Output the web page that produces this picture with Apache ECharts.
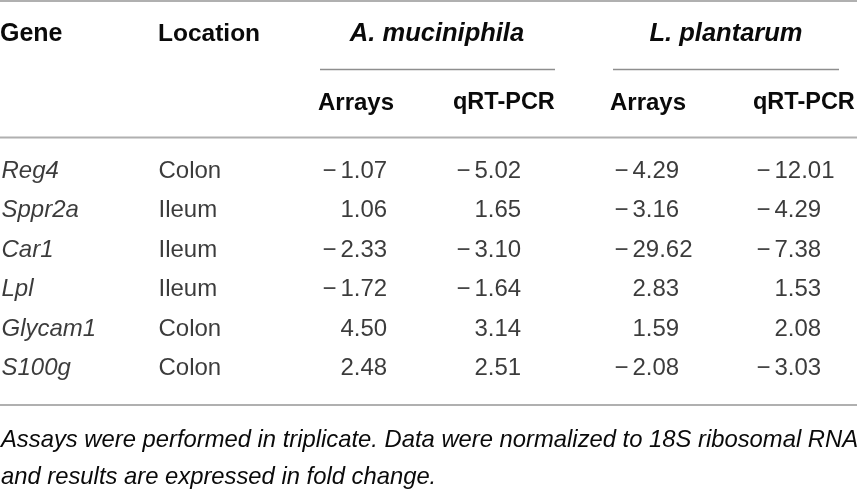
<!DOCTYPE html>
<html>
<head>
<meta charset="utf-8">
<script src="https://cdn.jsdelivr.net/npm/echarts@6/dist/echarts.min.js"></script>
<style>html,body{margin:0;padding:0;background:#fff;}#c{width:857px;height:490px;}</style>
</head>
<body>
<div id="c"></div>
<script>
// ---- data ----
var genes = ['Reg4', 'Sppr2a', 'Car1', 'Lpl', 'Glycam1', 'S100g'];
var locations = ['Colon', 'Ileum', 'Ileum', 'Ileum', 'Colon', 'Colon'];
var amArrays = [-1.07, 1.06, -2.33, -1.72, 4.50, 2.48];
var amQPCR = [-5.02, 1.65, -3.10, -1.64, 3.14, 2.51];
var lpArrays = [-4.29, -3.16, -29.62, 2.83, 1.59, -2.08];
var lpQPCR = [-12.01, -4.29, -7.38, 1.53, 2.08, -3.03];
var headerTop = ['Gene', 'Location', 'A. muciniphila', 'L. plantarum'];
var headerSub = ['Arrays', 'qRT-PCR', 'Arrays', 'qRT-PCR'];
var footnote = ['Assays were performed in triplicate. Data were normalized to 18S ribosomal RNA',
                'and results are expressed in fold change.'];

// ---- layout / style ----
var FONT = '"Liberation Sans", Arial, Helvetica, sans-serif';
var TXT = '#0a0a0a';
var RULE = '#b0b0b0';
var SUBRULE = '#8e8e8e';
var FS = 24;
var colX = [1, 158, 321, 455, 613, 755];

function fmt(v) {
  var s = Math.abs(v).toFixed(2);
  return (v < 0 ? '{s|\u2212}' : '{s| }') + '{n|' + s + '}';
}

function textSeries(x, values, isNum, italic) {
  return {
    type: 'scatter',
    symbolSize: 1,
    itemStyle: { color: 'rgba(0,0,0,0)' },
    silent: true,
    data: values.map(function (v, i) { return [x, i]; }),
    label: {
      show: true,
      position: 'right',
      distance: 0,
      color: TXT,
      fontFamily: FONT,
      fontSize: FS,
      fontStyle: italic ? 'italic' : 'normal',
      formatter: function (p) {
        var v = values[p.dataIndex];
        return isNum ? fmt(v) : v;
      },
      rich: isNum ? {
        s: { width: 16, align: 'center', fontSize: FS, fontFamily: FONT, color: TXT, padding: [0, 3, 0, 0] },
        n: { fontSize: FS, fontFamily: FONT, color: TXT }
      } : undefined
    }
  };
}

function hline(x1, x2, y, color, w) {
  return { type: 'line', silent: true, shape: { x1: x1, y1: y, x2: x2, y2: y },
           style: { stroke: color, lineWidth: w } };
}
function txt(x, y, s, opts) {
  opts = opts || {};
  return { type: 'text', silent: true, x: x, y: y,
    style: { text: s, fill: TXT, fontFamily: FONT, fontSize: opts.fs || FS,
             fontWeight: opts.bold ? 'bold' : 'normal',
             fontStyle: opts.italic ? 'italic' : 'normal',
             textAlign: opts.align || 'left', textVerticalAlign: 'middle' } };
}

var chart = echarts.init(document.getElementById('c'), null, { renderer: 'canvas' });
chart.setOption({
  animation: false,
  backgroundColor: '#fff',
  grid: { left: 0, right: 0, top: 151.5, height: 237 },
  xAxis: { type: 'value', min: 0, max: 857, show: false },
  yAxis: { type: 'category', data: genes, inverse: true, show: false },
  series: [
    textSeries(colX[0], genes, false, true),
    textSeries(colX[1], locations, false, false),
    textSeries(colX[2], amArrays, true, false),
    textSeries(colX[3], amQPCR, true, false),
    textSeries(colX[4], lpArrays, true, false),
    textSeries(colX[5], lpQPCR, true, false)
  ],
  graphic: [
    hline(0, 857, 1, RULE, 2),
    txt(0, 34, headerTop[0], { bold: true, fs: 25 }),
    txt(158, 34, headerTop[1], { bold: true, fs: 24.5 }),
    txt(437, 34, headerTop[2], { bold: true, italic: true, align: 'center', fs: 25.5 }),
    txt(726, 34, headerTop[3], { bold: true, italic: true, align: 'center', fs: 25.5 }),
    hline(320, 555, 69.5, SUBRULE, 1.5),
    hline(613, 839, 69.5, SUBRULE, 1.5),
    txt(318, 103, headerSub[0], { bold: true }),
    txt(453, 103, headerSub[1], { bold: true, fs: 23.5 }),
    txt(610, 103, headerSub[2], { bold: true }),
    txt(753, 103, headerSub[3], { bold: true, fs: 23.5 }),
    hline(0, 857, 137.5, RULE, 2),
    hline(0, 857, 405, RULE, 2),
    txt(1, 440, footnote[0], { italic: true, fs: 23.8 }),
    txt(1, 477, footnote[1], { italic: true, fs: 23.8 })
  ]
});
</script>
</body>
</html>
